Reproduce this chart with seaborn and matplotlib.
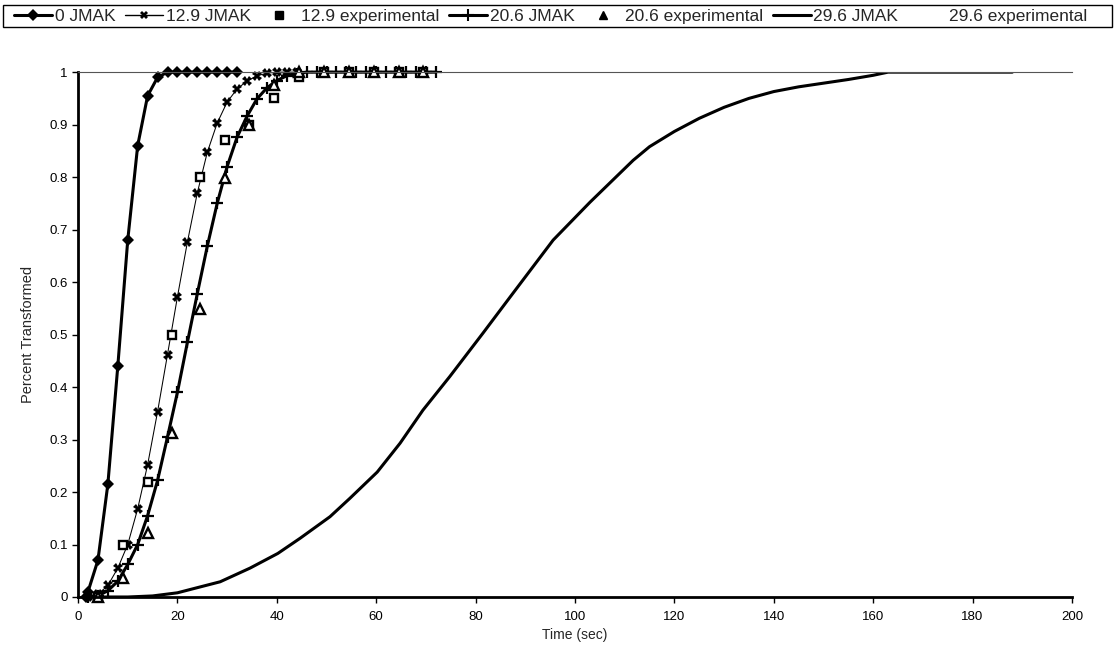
import numpy as np
import pandas as pd
import matplotlib
matplotlib.use("Agg")
import matplotlib.pyplot as plt
import seaborn as sns
from matplotlib.lines import Line2D
from matplotlib.patches import Rectangle

# ---- data ----
t_0 = [1.5, 2, 4, 6, 8, 10, 12, 14, 16, 18, 20, 22, 24, 26, 28, 30, 32]
y_0 = [0.0, 0.01, 0.07, 0.215, 0.44, 0.68, 0.86, 0.955, 0.99, 1, 1, 1, 1, 1, 1, 1, 1]

t_129j = [2, 4, 6, 8, 10, 12, 14, 16, 18, 20, 22, 24, 26, 28, 30, 32, 34, 36, 38, 40, 42, 44]
y_129j = [0.0, 0.005, 0.022, 0.055, 0.1, 0.168, 0.252, 0.353, 0.462, 0.572, 0.676, 0.77,
          0.847, 0.903, 0.943, 0.968, 0.983, 0.993, 0.998, 1, 1, 1]

t_129e = [4, 9, 14, 19, 24.5, 29.5, 34.5, 39.5, 44.5, 49.5, 54.5, 59.5, 64.5, 69.5]
y_129e = [0.0, 0.10, 0.22, 0.50, 0.80, 0.87, 0.90, 0.95, 0.99, 1, 1, 1, 1, 1]

t_206j = [2, 4, 6, 8, 10, 12, 14, 16, 18, 20, 22, 24, 26, 28, 30, 32, 34, 36, 38, 40, 42, 44,
          46, 48, 50, 52, 54, 56, 58, 60, 62, 64, 66, 68, 70, 72]
y_206j = [0.0, 0.002, 0.012, 0.03, 0.062, 0.10, 0.155, 0.222, 0.305, 0.39, 0.485, 0.578,
          0.668, 0.75, 0.82, 0.876, 0.916, 0.949, 0.97, 0.984, 0.993, 0.997,
          1, 1, 1, 1, 1, 1, 1, 1, 1, 1, 1, 1, 1, 1]

t_206e = [4, 9, 14, 19, 24.5, 29.5, 34.5, 39.5, 44.5, 49.5, 54.5, 59.5, 64.5, 69.5]
y_206e = [0.0, 0.036, 0.122, 0.313, 0.548, 0.798, 0.90, 0.975, 1, 1, 1, 1, 1, 1]

t_296j = [2, 5, 10, 15, 20, 24.5, 28.6, 34.6, 40.2, 44.7, 50.7, 54.7, 60.2, 64.8, 69.4,
          74.8, 81.5, 86.9, 95.6, 103, 111.7, 115, 120, 125, 130, 135, 140, 145, 150,
          155, 160, 163, 170, 180, 188]
y_296j = [0, 0, 0, 0.002, 0.008, 0.019, 0.029, 0.055, 0.083, 0.112, 0.153, 0.188, 0.238,
          0.293, 0.356, 0.42, 0.503, 0.571, 0.68, 0.752, 0.832, 0.858, 0.887, 0.912,
          0.933, 0.95, 0.963, 0.972, 0.979, 0.986, 0.994, 1, 1, 1, 1]

x_ticks = list(range(0, 201, 20))
y_ticks = [round(v * 0.1, 1) for v in range(11)]
y_tick_labels = ["0", "0.1", "0.2", "0.3", "0.4", "0.5", "0.6", "0.7", "0.8", "0.9", "1"]

# ---- style ----
sns.set_style("white")
plt.rcParams["font.family"] = ["Liberation Sans", "DejaVu Sans"]

fig = plt.figure(figsize=(11.15, 6.68), dpi=100)
ax = fig.add_axes([0.070, 0.1063, 0.8914, 0.7857])

k = "black"
sns.lineplot(x=t_296j, y=y_296j, ax=ax, color=k, lw=2.2, sort=False, estimator=None)
sns.lineplot(x=t_206j, y=y_206j, ax=ax, color=k, lw=2.2, sort=False, estimator=None,
             marker="+", markersize=9, markeredgewidth=1.6, markeredgecolor=k, clip_on=False)
sns.lineplot(x=t_129j, y=y_129j, ax=ax, color=k, lw=0.75, sort=False, estimator=None,
             marker="X", markersize=6.5, markeredgewidth=0, clip_on=False)
sns.lineplot(x=t_0, y=y_0, ax=ax, color=k, lw=2.2, sort=False, estimator=None,
             marker="D", markersize=5.8, markeredgewidth=0, clip_on=False)
ax.plot(t_129e, y_129e, ls="none", marker="s", markersize=5.5, markerfacecolor="white",
        markeredgecolor=k, markeredgewidth=1.7, clip_on=False)
ax.plot(t_206e, y_206e, ls="none", marker="^", markersize=6.5, markerfacecolor="white",
        markeredgecolor=k, markeredgewidth=1.7, clip_on=False)

ax.set_xlim(0, 200)
ax.set_ylim(0, 1)
ax.set_xticks(x_ticks)
ax.set_xticklabels([str(v) for v in x_ticks])
ax.set_yticks(y_ticks)
ax.set_yticklabels(y_tick_labels)
ax.tick_params(axis="both", direction="out", length=4, width=1, colors=k,
               labelsize=9.5, bottom=True, left=True)
ax.tick_params(axis="x", pad=6)
ax.set_xlabel("Time (sec)", fontsize=10, labelpad=4)
ax.set_ylabel("Percent Transformed", fontsize=10.5, labelpad=10)

for s in ["left", "bottom"]:
    ax.spines[s].set_color(k)
    ax.spines[s].set_linewidth(2)
ax.spines["top"].set_color("#555555")
ax.spines["top"].set_linewidth(0.8)
ax.spines["right"].set_visible(False)

handles = [
    Line2D([], [], color=k, lw=2.2, marker="D", markersize=6, markeredgewidth=0),
    Line2D([], [], color=k, lw=1.0, marker="X", markersize=6, markeredgewidth=0),
    Line2D([], [], ls="none", marker="s", markersize=6, color=k),
    Line2D([], [], color=k, lw=2.2, marker="+", markersize=9, markeredgewidth=1.5),
    Line2D([], [], ls="none", marker="^", markersize=6, color=k),
    Line2D([], [], color=k, lw=2.2),
    Line2D([], [], ls="none", color="white", alpha=0),
]
labels = ["0 JMAK", "12.9 JMAK", "12.9 experimental", "20.6 JMAK",
          "20.6 experimental", "29.6 JMAK", "29.6 experimental"]
leg = fig.legend(handles, labels, loc="center left", ncol=7,
                 bbox_to_anchor=(0.0125, 0.976), fontsize=12.5,
                 frameon=False, handlelength=2.2, handletextpad=0.15,
                 columnspacing=0.55, borderpad=0.0, borderaxespad=0)
fig.patches.append(Rectangle((0.0027, 0.9596), 0.9946, 0.0329, transform=fig.transFigure,
                             fill=False, edgecolor=k, linewidth=1.0))

fig.savefig("out.png", dpi=100)
